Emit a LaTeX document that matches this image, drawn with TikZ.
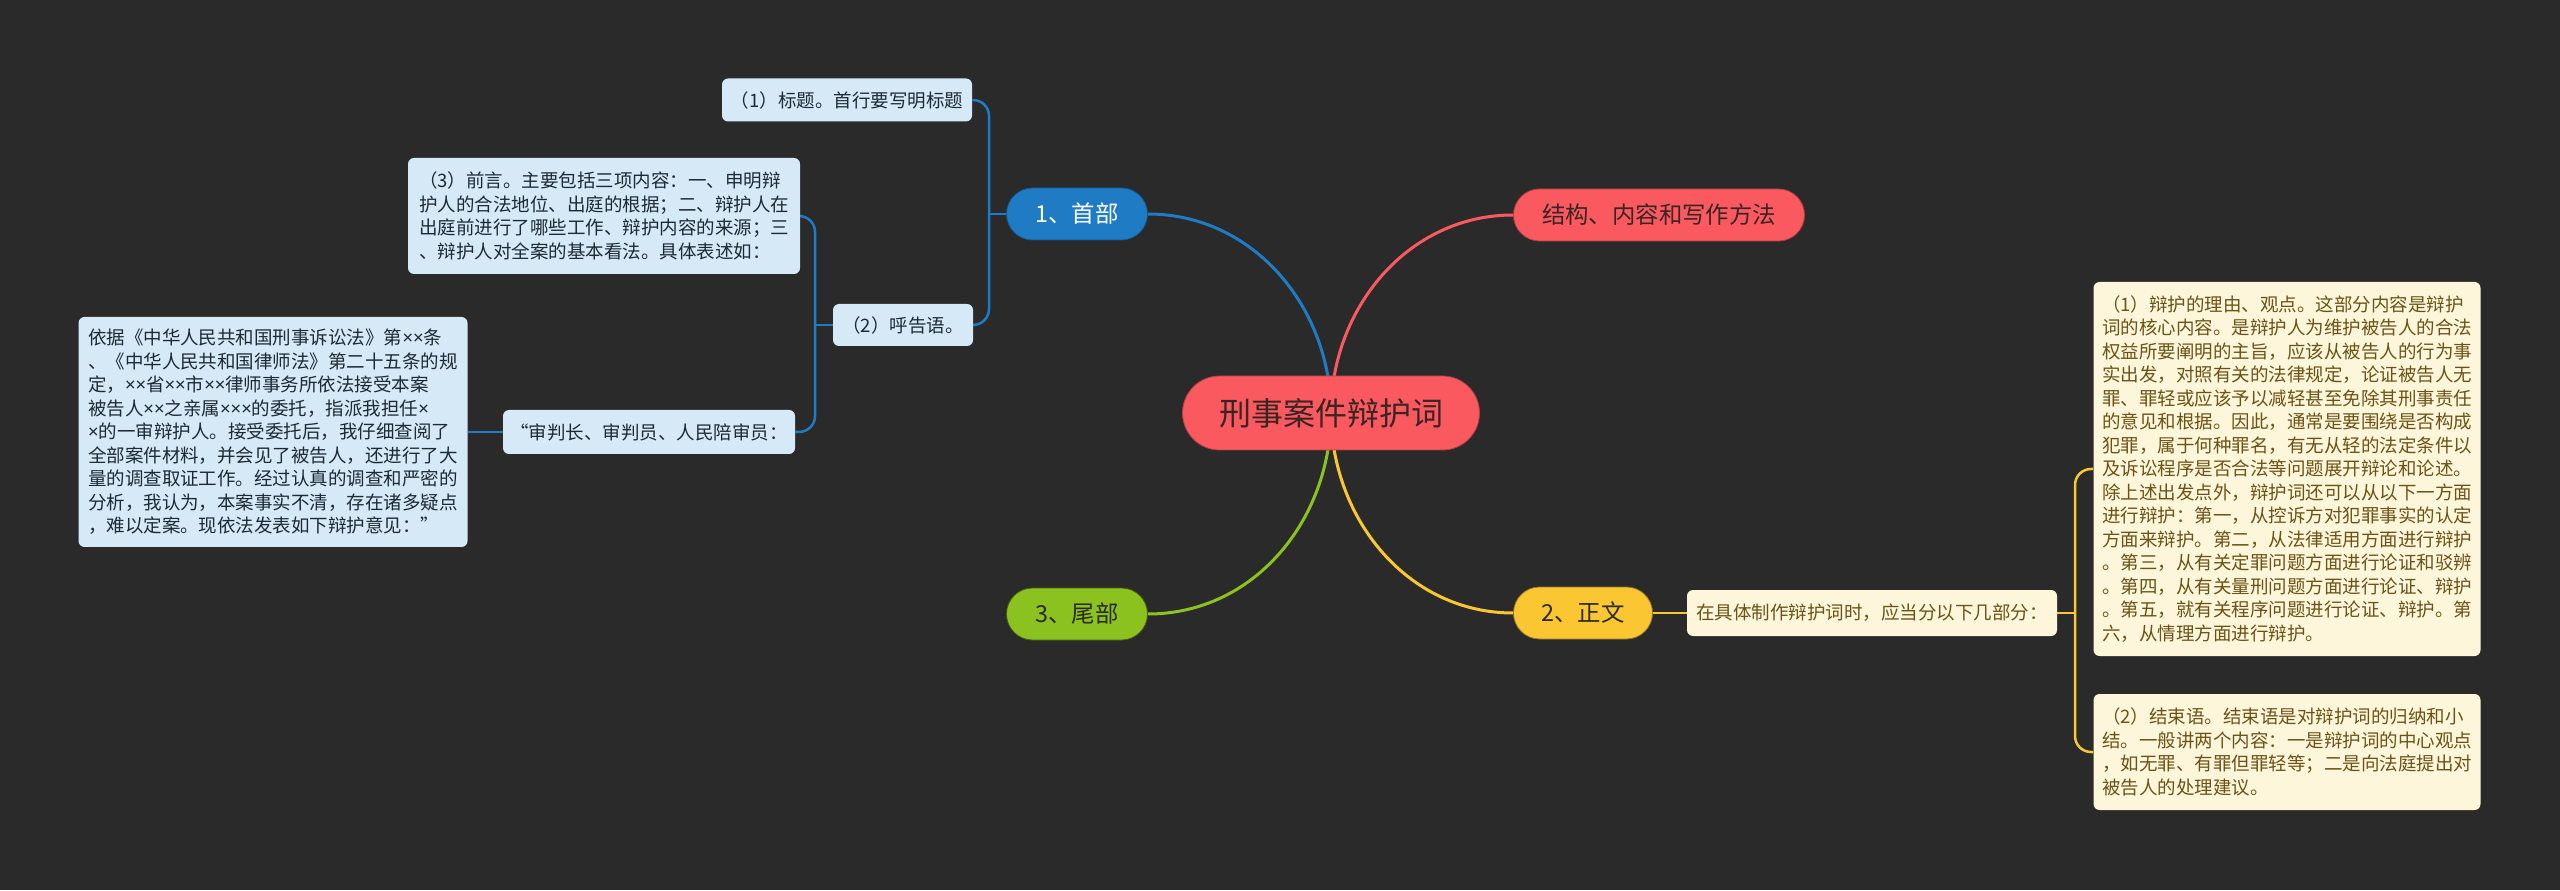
\documentclass[tikz,border=0pt]{standalone}
\usepackage{fontspec}
\setmainfont{Noto Sans CJK SC}
\newfontfamily\latinfont{Noto Sans}
\newcommand\mult{{\latinfont ×}}
\usetikzlibrary{backgrounds, calc}

\definecolor{bgdark}{HTML}{2A2A2A}
\definecolor{rootred}{HTML}{FA5A5F}
\definecolor{redtext}{HTML}{3A2424}
\definecolor{mainblue}{HTML}{1F7CC4}
\definecolor{paleblue}{HTML}{D5E9F7}
\definecolor{bluetext}{HTML}{1E2A33}
\definecolor{mainyellow}{HTML}{FAC733}
\definecolor{paleyellow}{HTML}{FEF6DB}
\definecolor{yellowtext}{HTML}{6B5316}
\definecolor{maingreen}{HTML}{8CC220}
\definecolor{darktext}{HTML}{2A2A1A}

\begin{document}
\begin{tikzpicture}[x=0.5pt, y=0.5pt,
  topic/.style={rounded corners=13pt, minimum height=26pt, line width=0.4pt, font=\fontsize{11.7}{14}\selectfont},
  note/.style={rounded corners=3pt, align=left, font=\fontsize{9.25}{11.75}\selectfont},
  bluenote/.style={note, fill=paleblue, text=bluetext},
  yellownote/.style={note, fill=paleyellow, text=yellowtext},
  link/.style={line width=1.5pt},
  bracket/.style={line width=1.25pt, rounded corners=8pt}]

\useasboundingbox (0, 0) rectangle (2560, 890);

% centre and main topics
\node [rounded corners=18.5pt, fill=rootred, draw=rootred!70!black, line width=0.4pt, text=redtext, minimum width=148.5pt, minimum height=37pt, font=\fontsize{16}{19}\selectfont] (root) at (1331, 477) {刑事案件辩护词};
\node [topic, fill=rootred, draw=rootred!70!black, text=redtext, minimum width=145.5pt] (structure) at (1659, 675) {结构、内容和写作方法};
\node [topic, fill=mainblue, draw=mainblue!70!black, text=white, minimum width=70.5pt] (head) at (1077, 676) {1、首部};
\node [topic, fill=mainyellow, draw=mainyellow!60!black, text=darktext, minimum width=69.5pt] (body) at (1583, 277) {2、正文};
\node [topic, fill=maingreen, draw=maingreen!50!black, text=darktext, minimum width=70.5pt] (tail) at (1077, 276) {3、尾部};

% first part
\node [bluenote, minimum width=125pt, minimum height=21.5pt] (title) at (847, 790) {（1）标题。首行要写明标题};
\node [bluenote, minimum width=196pt, minimum height=58pt] (preface) at (604, 674) {（3）前言。主要包括三项内容：一、申明辩\\护人的合法地位、出庭的根据；二、辩护人在\\出庭前进行了哪些工作、辩护内容的来源；三\\、辩护人对全案的基本看法。具体表述如：};
\node [bluenote, minimum width=70pt, minimum height=21pt] (address) at (903, 565) {（2）呼告语。};
\node [bluenote, minimum width=146pt, minimum height=22pt] (judges) at (649, 458) {“审判长、审判员、人民陪审员：};
\node [bluenote, minimum width=194.5pt, minimum height=115pt] (basis) at (273, 458) {依据《中华人民共和国刑事诉讼法》第\mult\mult 条\\、《中华人民共和国律师法》第二十五条的规\\定，\mult\mult 省\mult\mult 市\mult\mult 律师事务所依法接受本案\\被告人\mult\mult 之亲属\mult\mult\mult 的委托，指派我担任\mult\\\mult 的一审辩护人。接受委托后，我仔细查阅了\\全部案件材料，并会见了被告人，还进行了大\\量的调查取证工作。经过认真的调查和严密的\\分析，我认为，本案事实不清，存在诸多疑点\\，难以定案。现依法发表如下辩护意见：”};

% second part
\node [yellownote, minimum width=185pt, minimum height=23pt] (intro) at (1872, 277) {在具体制作辩护词时，应当分以下几部分：};
\node [yellownote, minimum width=193.5pt, minimum height=187pt] (reasons) at (2287, 421) {（1）辩护的理由、观点。这部分内容是辩护\\词的核心内容。是辩护人为维护被告人的合法\\权益所要阐明的主旨，应该从被告人的行为事\\实出发，对照有关的法律规定，论证被告人无\\罪、罪轻或应该予以减轻甚至免除其刑事责任\\的意见和根据。因此，通常是要围绕是否构成\\犯罪，属于何种罪名，有无从轻的法定条件以\\及诉讼程序是否合法等问题展开辩论和论述。\\除上述出发点外，辩护词还可以从以下一方面\\进行辩护：第一，从控诉方对犯罪事实的认定\\方面来辩护。第二，从法律适用方面进行辩护\\。第三，从有关定罪问题方面进行论证和驳辨\\。第四，从有关量刑问题方面进行论证、辩护\\。第五，就有关程序问题进行论证、辩护。第\\六，从情理方面进行辩护。};
\node [yellownote, minimum width=193.5pt, minimum height=58pt] (closing) at (2287, 138) {（2）结束语。结束语是对辩护词的归纳和小\\结。一般讲两个内容：一是辩护词的中心观点\\，如无罪、有罪但罪轻等；二是向法庭提出对\\被告人的处理建议。};

\coordinate (headfork) at (989, 676);
\coordinate (addrfork) at (815, 565);
\coordinate (introfork) at (2075, 277);

\begin{scope}[on background layer]
\fill [bgdark] (0, 0) rectangle (2560, 890);
\draw [link, rootred] (root.center) to[out=90, in=180] (structure.west);
\draw [link, mainblue] (root.center) to[out=90, in=0] (head.east);
\draw [link, maingreen] (root.center) to[out=270, in=0] (tail.east);
\draw [link, mainyellow] (root.center) to[out=270, in=180] (body.west);

\draw [bracket, mainblue] (head.west) -- (headfork);
\draw [bracket, mainblue] (title.east) -| (headfork) |- (address.east);
\draw [bracket, mainblue] (address.west) -- (addrfork);
\draw [bracket, mainblue] (preface.east) -| (addrfork) |- (judges.east);
\draw [bracket, mainblue] (judges.west) -- (basis.east);

\draw [bracket, mainyellow] (body.east) -- (intro.west);
\draw [bracket, mainyellow] (intro.east) -- (introfork);
\draw [bracket, mainyellow] (reasons.west) -| (introfork) |- (closing.west);
\end{scope}

\end{tikzpicture}
\end{document}
